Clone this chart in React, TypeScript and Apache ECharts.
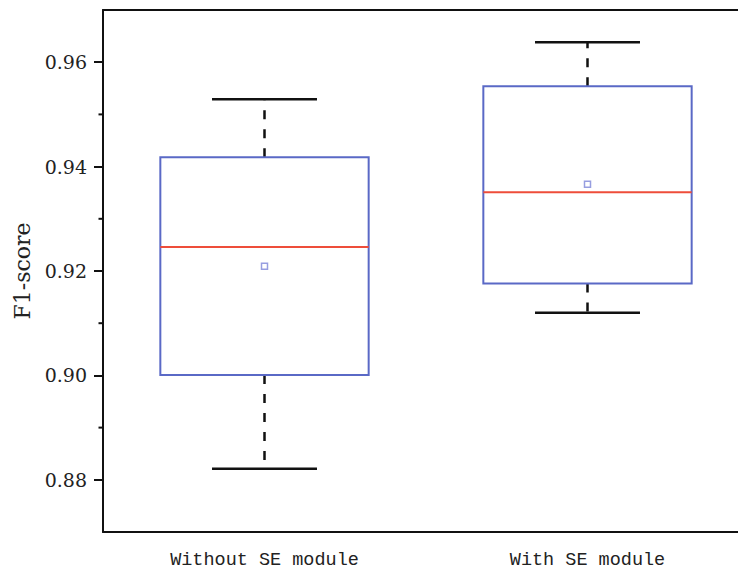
import React, { useEffect, useRef } from "react";
import * as echarts from "echarts";

const categories = ["Without SE module", "With SE module"];
const lowerWhisker = [0.8821, 0.912];
const q1 = [0.9001, 0.9176];
const median = [0.9246, 0.9351];
const q3 = [0.9418, 0.9554];
const upperWhisker = [0.9529, 0.9638];
const mean = [0.9209, 0.9366];

const majorTicks = [0.88, 0.9, 0.92, 0.94, 0.96];
const minorTicks = [0.89, 0.91, 0.93, 0.95];

const BOX_COLOR = "#5a69c6";
const MEDIAN_COLOR = "#ee4d3a";
const WHISKER_COLOR = "#111";
const MEAN_COLOR = "#7d86d8";

export default function App() {
  const ref = useRef<HTMLDivElement>(null);

  useEffect(() => {
    if (!ref.current) return;
    document.body.style.overflow = "hidden";
    document.body.style.margin = "0";
    const chart = echarts.init(ref.current, null, { renderer: "svg" });

    const boxData = categories.map((_, i) => [
      i,
      lowerWhisker[i],
      q1[i],
      median[i],
      q3[i],
      upperWhisker[i],
    ]);
    const meanData = categories.map((_, i) => [i, mean[i]]);
    const minorData = minorTicks.map((v) => [0, v]);

    const renderItem = (params: any, api: any) => {
      const idx = api.value(0);
      const band = api.size([1, 0])[0];
      const boxW = band * 0.645;
      const capW = band * 0.325;
      const pLow = api.coord([idx, api.value(1)]);
      const pQ1 = api.coord([idx, api.value(2)]);
      const pMed = api.coord([idx, api.value(3)]);
      const pQ3 = api.coord([idx, api.value(4)]);
      const pHigh = api.coord([idx, api.value(5)]);
      const cx = pQ1[0];
      return {
        type: "group",
        children: [
          {
            type: "line",
            shape: { x1: cx, y1: pQ3[1], x2: cx, y2: pHigh[1] },
            style: { stroke: WHISKER_COLOR, lineWidth: 2.5, lineDash: [9, 10] },
          },
          {
            type: "line",
            shape: { x1: cx, y1: pQ1[1], x2: cx, y2: pLow[1] },
            style: { stroke: WHISKER_COLOR, lineWidth: 2.5, lineDash: [9, 10] },
          },
          {
            type: "line",
            shape: { x1: cx - capW / 2, y1: pHigh[1], x2: cx + capW / 2, y2: pHigh[1] },
            style: { stroke: WHISKER_COLOR, lineWidth: 2.5 },
          },
          {
            type: "line",
            shape: { x1: cx - capW / 2, y1: pLow[1], x2: cx + capW / 2, y2: pLow[1] },
            style: { stroke: WHISKER_COLOR, lineWidth: 2.5 },
          },
          {
            type: "rect",
            shape: { x: cx - boxW / 2, y: pQ3[1], width: boxW, height: pQ1[1] - pQ3[1] },
            style: { fill: "#fff", stroke: BOX_COLOR, lineWidth: 2 },
          },
          {
            type: "line",
            shape: { x1: cx - boxW / 2, y1: pMed[1], x2: cx + boxW / 2, y2: pMed[1] },
            style: { stroke: MEDIAN_COLOR, lineWidth: 2 },
          },
        ],
      };
    };

    const renderMinorTick = (params: any, api: any) => {
      const band = api.size([1, 0])[0];
      const p = api.coord([0, api.value(1)]);
      const x0 = p[0] - band / 2;
      return {
        type: "line",
        shape: { x1: x0 - 4.5, y1: p[1], x2: x0, y2: p[1] },
        style: { stroke: "#111", lineWidth: 2 },
      };
    };

    chart.setOption({
      animation: false,
      grid: {
        left: 103,
        top: 10,
        bottom: 41,
        right: 11,
      },
      xAxis: [
        {
          type: "category",
          data: categories,
          axisLine: { lineStyle: { color: "#111", width: 2 } },
          axisTick: { alignWithLabel: true, length: 7, lineStyle: { color: "#111", width: 2 } },
          axisLabel: {
            margin: 19,
            fontFamily: "Liberation Mono",
            fontSize: 18.5,
            color: "#222",
          },
          splitLine: { show: false },
        },
        {
          type: "category",
          data: categories,
          position: "top",
          axisLine: { show: true, lineStyle: { color: "#111", width: 2 } },
          axisTick: { show: false },
          axisLabel: { show: false },
          splitLine: { show: false },
        },
      ],
      yAxis: {
        type: "value",
        min: 0.87,
        max: 0.97,
        position: "left",
        name: "F1-score",
        nameLocation: "middle",
        nameGap: 70,
        nameTextStyle: { fontFamily: "DejaVu Serif", fontSize: 22, color: "#222" },
        axisLine: { show: true, lineStyle: { color: "#111", width: 2 } },
        axisTick: {
          show: true,
          length: 9,
          customValues: majorTicks,
          lineStyle: { color: "#111", width: 2 },
        },
        axisLabel: {
          customValues: majorTicks,
          margin: 16,
          fontFamily: "DejaVu Serif",
          fontSize: 19,
          color: "#222",
          formatter: (v: number) => v.toFixed(2),
        },
        splitLine: { show: false },
      },
      series: [
        {
          type: "custom",
          renderItem,
          data: boxData,
          encode: { x: 0, y: [1, 2, 3, 4, 5] },
          z: 2,
        },
        {
          type: "custom",
          renderItem: renderMinorTick,
          data: minorData,
          encode: { x: 0, y: 1 },
          clip: false,
          silent: true,
          z: 4,
        },
        {
          type: "scatter",
          data: meanData,
          symbol: "rect",
          symbolSize: 6,
          itemStyle: { color: "#fff", borderColor: MEAN_COLOR, borderWidth: 1.5 },
          z: 3,
        },
      ],
    });

    return () => chart.dispose();
  }, []);

  return (
    <div
      ref={ref}
      style={{ position: "fixed", left: 0, top: 0, width: 760, height: 573, background: "#fff" }}
    />
  );
}
